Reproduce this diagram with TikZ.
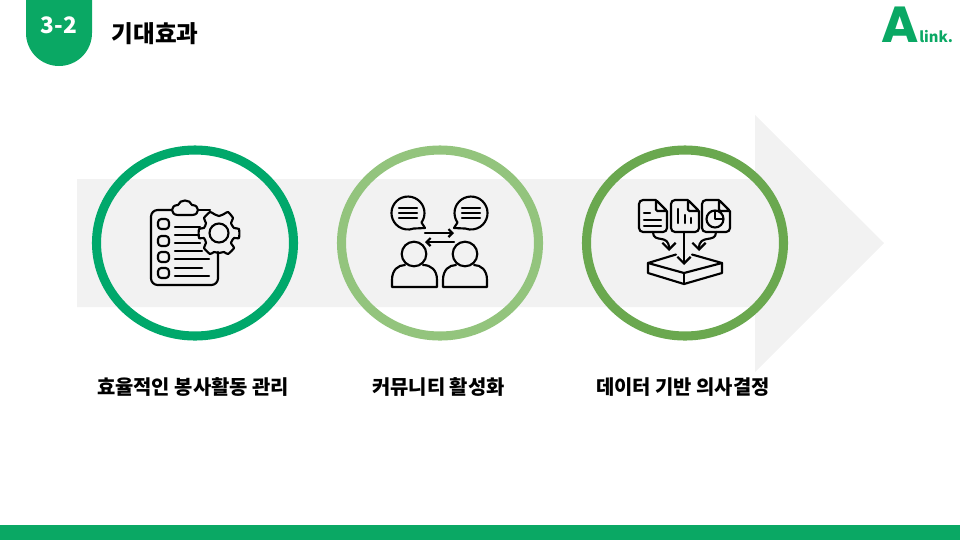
\documentclass[tikz,border=0pt]{standalone}
\usepackage{fontspec}
\setmainfont{Noto Sans CJK KR}
\newfontfamily\logofont{Poppins}
\usetikzlibrary{arrows.meta}
\definecolor{mainGreen}{HTML}{0AA864}
\definecolor{ringA}{HTML}{00A86B}
\definecolor{ringB}{HTML}{93C47D}
\definecolor{ringC}{HTML}{6AA84F}
\definecolor{bandGray}{HTML}{F2F2F2}
\tikzset{
  ring/.style={line width=6.8pt,fill=none},
  icon/.style={line width=1.6pt,line join=round,line cap=round,black},
  tip/.style={-{Straight Barb[length=5pt,width=10pt]}},
  smalltip/.style={-{Straight Barb[length=3pt,width=6pt]}},
  caption/.style={font=\bfseries\fontsize{14.9}{16}\selectfont,text=black,inner sep=0pt},
}
\begin{document}
\begin{tikzpicture}[x=0.75pt,y=-0.75pt]
\useasboundingbox (0,0) rectangle (960,540);
% band and arrow
\fill[bandGray] (77,179)--(755,179)--(755,115)--(884,243)--(755,372)--(755,307)--(77,307)--cycle;
% header
\fill[mainGreen] (26,0)--(92,0)--(92,33) arc[start angle=0,end angle=180,radius=33] --cycle;
\node[font=\bfseries\fontsize{17}{18}\selectfont,text=white,inner sep=0pt] (secno) at (59,25) {3-2};
\node[font=\bfseries\fontsize{17.7}{20}\selectfont,inner sep=0pt] (title) at (155,34) {기대효과};
\fill[mainGreen] (0,525) rectangle (960,540);
% logo
\node[font=\logofont\bfseries\fontsize{38}{40}\selectfont,text=mainGreen,inner sep=0pt,anchor=base] (logoa) at (900,42) {A};
\node[font=\bfseries\fontsize{11}{14}\selectfont,text=mainGreen,inner sep=0pt,anchor=base west] (logob) at (919,42) {link.};
% rings
\draw[ringA,ring] (195,243) ellipse[x radius=98.5,y radius=93];
\draw[ringB,ring] (440,243) ellipse[x radius=98.5,y radius=93];
\draw[ringC,ring] (685,243) ellipse[x radius=98.5,y radius=93];
% clipboard
\begin{scope}[icon]
\draw[rounded corners=5pt] (172,210)--(151,210)--(151,285)--(218,285)--(218,252);
\draw (198,210)--(210,210);
\draw (178,215) .. controls (170,215) and (170,205) .. (178,205) .. controls (180,199) and (190,199) .. (192,205) .. controls (200,205) and (200,215) .. (192,215) --cycle;
\foreach \y in {224,241,257,273}
  \draw[rounded corners=2.5pt] (158,\y-5) rectangle (169,\y+5);
\foreach \y/\e in {227/200,235/199,243/200,251/202,259/209,268/202,276/209}
  \draw (175,\y)--(\e,\y);
\draw (219,233) circle[radius=9.5];
\draw plot[smooth cycle,tension=0.35] coordinates {
  (214,214) (219,216) (224,214) (228,212) (233,218) (231,223) (234,228) (239,229) (239,238) (234,238) (231,243)
  (234,248) (228,254) (224,252) (219,253) (214,252) (210,254) (204,248) (206,243) (204,238) (199,238) (199,229)
  (204,228) (206,223) (204,218) (210,212)};
\end{scope}
% two people talking
\begin{scope}[icon]
\draw (421.5,222.5) arc[start angle=35,end angle=-290,radius=16.5] -- (425,228) -- cycle;
\draw (457.5,222.5) arc[start angle=145,end angle=470,radius=16.5] -- (454,228) -- cycle;
\foreach \x in {399,462} \foreach \y in {208,213,218}
  \draw (\x,\y)--(\x+18,\y);
\draw[smalltip] (425,233)--(454,233);
\draw[smalltip] (454,242)--(425,242);
\draw (414,254) circle[radius=12.3];
\draw (465,254) circle[radius=12.3];
\draw (405,265) .. controls (398,265) and (392,270) .. (392,280) --(392,287)--(437,287)--(437,280) .. controls (437,270) and (431,265) .. (423,265);
\draw (456,265) .. controls (449,265) and (443,270) .. (443,280) --(443,287)--(487,287)--(487,280) .. controls (487,270) and (481,265) .. (474,265);
\end{scope}
% documents and box
\begin{scope}[icon]
\foreach \x in {639,671,702} {
  \draw[rounded corners=3pt] (\x+17,200)--(\x,200)--(\x,232)--(\x+28,232)--(\x+28,211);
  \draw[rounded corners=1pt] (\x+17,200)--(\x+17,211)--(\x+28,211)--cycle;
}
\draw (644,213)--(650,213);
\draw (644,220)--(661,220);
\draw (644,226)--(661,226);
\draw (678,209)--(678,223);
\draw (685,215)--(685,223);
\draw (691,218)--(691,223);
\draw (715,219) circle[radius=8.5];
\draw (715,211)--(715,219)--(723,219);
\draw[tip] (684,232)--(684,265);
\draw[tip] (653,232) .. controls (653,244) and (669,233) .. (669,251);
\draw[tip] (716,232) .. controls (716,244) and (699,233) .. (699,251);
\draw (676,254.5)--(648,263)--(684,273)--(722,263)--(692,254.5);
\draw (648,263)--(648,273)--(684,284)--(722,273)--(722,263);
\draw (684,273)--(684,284);
\end{scope}
% captions
\node[caption] (capa) at (193,387) {효율적인 봉사활동 관리};
\node[caption] (capb) at (438.5,387) {커뮤니티 활성화};
\node[caption] (capc) at (683,387) {데이터 기반 의사결정};
\end{tikzpicture}
\end{document}
